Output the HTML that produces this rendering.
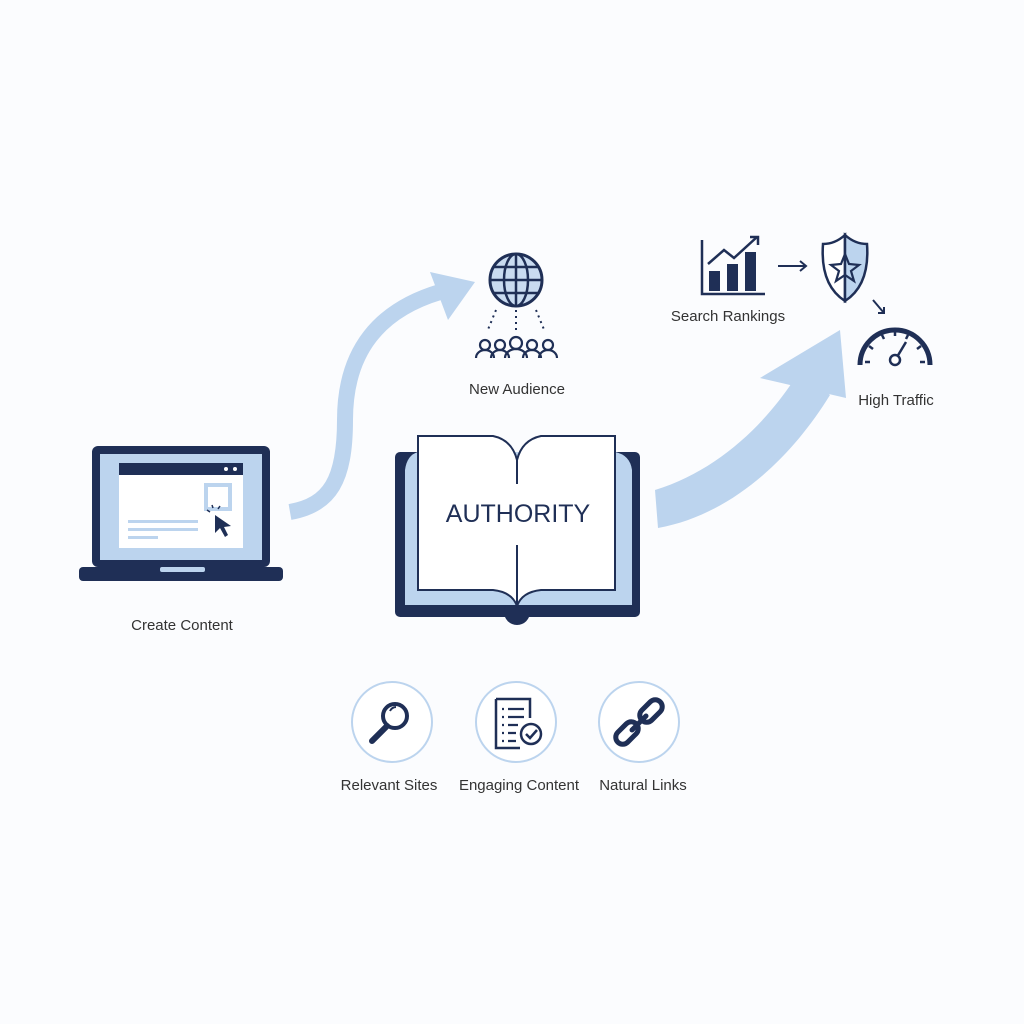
<!DOCTYPE html>
<html><head><style>
html,body{margin:0;padding:0;background:#fbfcfe;}
svg{display:block;font-family:"Liberation Sans",sans-serif;}
</style></head><body>
<svg width="1024" height="1024" viewBox="0 0 1024 1024">
<rect width="1024" height="1024" fill="#fbfcfe"/>
<path d="M290 512 C330 505 345 480 345 420 C345 350 380 310 440 292" fill="none" stroke="#bcd4ee" stroke-width="16"/>
<polygon points="475,282 430,272 448,320" fill="#bcd4ee"/>
<path d="M655 490 C720 470 770 420 800 370 L830 395 C790 460 730 515 658 528 Z" fill="#bcd4ee"/>
<polygon points="840,330 760,378 846,398" fill="#bcd4ee"/>

<!-- laptop -->
<rect x="92" y="446" width="178" height="121" rx="6" fill="#1f2f56"/>
<rect x="100" y="454" width="162" height="106" fill="#bcd4ee"/>
<rect x="119" y="463" width="124" height="85" fill="#fff"/>
<rect x="119" y="463" width="124" height="12" fill="#1f2f56"/>
<circle cx="226" cy="469" r="2" fill="#fff"/><circle cx="235" cy="469" r="2" fill="#fff"/>
<rect x="206" y="485" width="24" height="24" fill="none" stroke="#bcd4ee" stroke-width="4"/>
<rect x="128" y="520" width="70" height="3" fill="#bcd4ee"/>
<rect x="128" y="528" width="70" height="3" fill="#bcd4ee"/>
<rect x="128" y="536" width="30" height="3" fill="#bcd4ee"/>
<path d="M215 515 L215 533 L220 528 L225 537 L228 535 L224 527 L231 526 Z" fill="#1f2f56"/>
<path d="M210 512 l-3 -2 M213 508 l-1 -3 M218 509 l2 -3" stroke="#1f2f56" stroke-width="1.5"/>
<rect x="79" y="567" width="204" height="14" rx="4" fill="#1f2f56"/>
<rect x="160" y="567" width="45" height="5" rx="2" fill="#bcd4ee"/>
<text x="182" y="630" font-size="15" fill="#333" text-anchor="middle">Create Content</text>

<!-- book -->
<rect x="395" y="452" width="245" height="165" rx="5" fill="#1f2f56"/>
<circle cx="517" cy="612" r="13" fill="#1f2f56"/>
<path d="M405 470 Q407 455 418 452 L615 452 Q630 455 632 470 L632 605 L405 605 Z" fill="#bcd4ee"/>
<path d="M418 436 L493 436 Q512 440 517 460 Q522 440 541 436 L615 436 L615 590 L541 590 Q522 592 517 606 Q512 592 493 590 L418 590 Z" fill="#fff" stroke="#1f2f56" stroke-width="2"/>
<line x1="517" y1="460" x2="517" y2="484" stroke="#1f2f56" stroke-width="2"/>
<line x1="517" y1="545" x2="517" y2="606" stroke="#1f2f56" stroke-width="2"/>
<text x="518" y="522" font-size="25" fill="#1f2f56" text-anchor="middle">AUTHORITY</text>

<!-- globe -->
<circle cx="516" cy="280" r="26" fill="#c9dbf0" stroke="#1f2f56" stroke-width="3"/>
<ellipse cx="516" cy="280" rx="12" ry="26" fill="none" stroke="#1f2f56" stroke-width="2.5"/>
<line x1="516" y1="254" x2="516" y2="306" stroke="#1f2f56" stroke-width="2.5"/>
<line x1="490" y1="280" x2="542" y2="280" stroke="#1f2f56" stroke-width="2.5"/>
<path d="M494 267 H538 M494 293 H538" stroke="#1f2f56" stroke-width="2.5"/>
<path d="M496 310 L487 332 M516 310 L516 332 M536 310 L545 332" stroke="#1f2f56" stroke-width="2" stroke-dasharray="2 4"/>
<g fill="none" stroke="#1f2f56" stroke-width="2.2">
<circle cx="485" cy="345" r="5"/><path d="M476 358 a9 8 0 0 1 18 0"/>
<circle cx="500" cy="345" r="5"/><path d="M491 358 a9 8 0 0 1 18 0"/>
<circle cx="516" cy="343" r="6"/><path d="M505 358 a11 9 0 0 1 22 0"/>
<circle cx="532" cy="345" r="5"/><path d="M523 358 a9 8 0 0 1 18 0"/>
<circle cx="548" cy="345" r="5"/><path d="M539 358 a9 8 0 0 1 18 0"/>
</g>
<text x="517" y="394" font-size="15" fill="#333" text-anchor="middle">New Audience</text>

<!-- chart -->
<path d="M702 240 V294 H765" fill="none" stroke="#1f2f56" stroke-width="2.5"/>
<rect x="709" y="271" width="11" height="20" fill="#1f2f56"/>
<rect x="727" y="264" width="11" height="27" fill="#1f2f56"/>
<rect x="745" y="252" width="11" height="39" fill="#1f2f56"/>
<path d="M708 264 L724 250 L734 258 L757 237" fill="none" stroke="#1f2f56" stroke-width="2.5"/>
<path d="M750 237 H758 V245" fill="none" stroke="#1f2f56" stroke-width="2.5"/>
<path d="M778 266 H806 M800 261 L806 266 L800 271" fill="none" stroke="#1f2f56" stroke-width="2"/>
<text x="728" y="321" font-size="15" fill="#333" text-anchor="middle">Search Rankings</text>

<!-- shield -->
<path d="M845 235 Q835 244 823 244 Q820 285 845 301 Z" fill="#fff" stroke="#1f2f56" stroke-width="2.5"/>
<path d="M845 235 Q855 244 867 244 Q870 285 845 301 Z" fill="#bcd4ee" stroke="#1f2f56" stroke-width="2.5"/>
<polygon points="845,254 849,264 859,265 851,271 854,281 845,275 836,281 839,271 831,265 841,264" fill="none" stroke="#1f2f56" stroke-width="2.2"/>
<path d="M873 300 L884 313 M878 313 H884 V307" fill="none" stroke="#1f2f56" stroke-width="2"/>

<!-- gauge -->
<path d="M860 365 A35 35 0 0 1 930 365" fill="none" stroke="#1f2f56" stroke-width="5"/>
<g stroke="#1f2f56" stroke-width="2.5">
<line x1="865" y1="362" x2="870" y2="362"/><line x1="920" y1="362" x2="925" y2="362"/>
<line x1="869" y1="346" x2="873" y2="349"/><line x1="921" y1="346" x2="917" y2="349"/>
<line x1="882" y1="335" x2="884" y2="339"/><line x1="908" y1="335" x2="906" y2="339"/>
<line x1="895" y1="331" x2="895" y2="336"/>
<line x1="897" y1="357" x2="906" y2="342"/>
</g>
<circle cx="895" cy="360" r="5" fill="#fff" stroke="#1f2f56" stroke-width="2.5"/>
<text x="896" y="405" font-size="15" fill="#333" text-anchor="middle">High Traffic</text>

<!-- bottom circles -->
<g fill="#fff" stroke="#bcd4ee" stroke-width="2">
<circle cx="392" cy="722" r="40"/><circle cx="516" cy="722" r="40"/><circle cx="639" cy="722" r="40"/>
</g>
<circle cx="395" cy="716" r="12" fill="none" stroke="#1f2f56" stroke-width="4"/>
<path d="M387 726 L372 741" stroke="#1f2f56" stroke-width="6" stroke-linecap="round"/>
<path d="M390 711 a7 7 0 0 1 6 -4" stroke="#1f2f56" stroke-width="2" fill="none"/>
<path d="M496 699 H530 V718 M496 699 V748 H520" fill="none" stroke="#1f2f56" stroke-width="2.5"/>
<g stroke="#1f2f56" stroke-width="2.2">
<path d="M502 709 h2 M508 709 h16 M502 717 h2 M508 717 h16 M502 725 h2 M508 725 h10 M502 733 h2 M508 733 h8 M502 741 h2 M508 741 h8"/>
</g>
<circle cx="531" cy="734" r="10" fill="#fff" stroke="#1f2f56" stroke-width="2.5"/>
<path d="M526 734 l4 4 l7 -8" fill="none" stroke="#1f2f56" stroke-width="2.5"/>
<rect x="614" y="726" width="26" height="14" rx="7" transform="rotate(-45 627 733)" fill="none" stroke="#1f2f56" stroke-width="5"/>
<rect x="638" y="704" width="26" height="14" rx="7" transform="rotate(-45 651 711)" fill="none" stroke="#1f2f56" stroke-width="5"/>
<line x1="632" y1="730" x2="646" y2="716" stroke="#1f2f56" stroke-width="5" stroke-linecap="round"/>
<g font-size="15" fill="#333" text-anchor="middle">
<text x="389" y="790">Relevant Sites</text>
<text x="519" y="790">Engaging Content</text>
<text x="643" y="790">Natural Links</text>
</g>
</svg>
</body></html>
